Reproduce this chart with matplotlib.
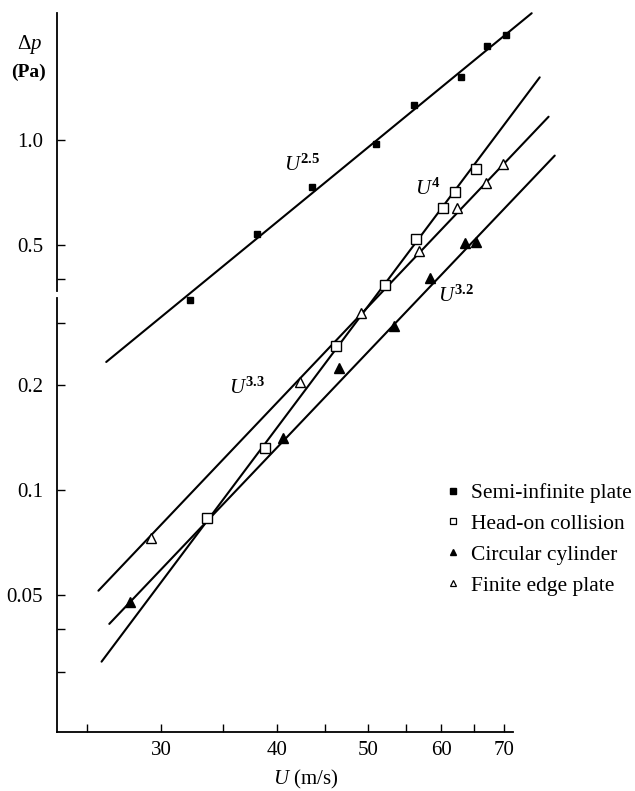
import matplotlib.pyplot as plt
from matplotlib.lines import Line2D

plt.rcParams['font.family'] = ['Liberation Serif', 'DejaVu Serif']
plt.rcParams['mathtext.fontset'] = 'custom'
plt.rcParams['mathtext.rm'] = 'Liberation Serif'
plt.rcParams['mathtext.it'] = 'Liberation Serif:italic'
plt.rcParams['mathtext.bf'] = 'Liberation Serif:bold'

# measured points (U in m/s, dp in Pa)
semi_U = [32.2, 38.0, 43.6, 51.1, 56.0, 63.0, 67.1, 70.3]
semi_p = [0.348, 0.539, 0.737, 0.976, 1.262, 1.514, 1.862, 1.998]
head_U = [33.6, 38.8, 46.2, 52.2, 56.4, 60.2, 62.0, 65.4]
head_p = [0.0829, 0.132, 0.258, 0.385, 0.521, 0.639, 0.713, 0.826]
cyl_U = [27.8, 40.6, 46.6, 53.3, 58.4, 63.6, 65.4]
cyl_p = [0.0478, 0.1407, 0.2236, 0.294, 0.403, 0.507, 0.513]
edge_U = [29.3, 42.3, 49.2, 56.8, 62.3, 67.0, 69.9]
edge_p = [0.0728, 0.203, 0.321, 0.481, 0.639, 0.756, 0.854]

# power-law fit lines (end points)
semi_fit_U = [26.2, 75.0]
semi_fit_p = [0.232, 2.31]
head_fit_U = [25.9, 76.5]
head_fit_p = [0.0322, 1.514]
cyl_fit_U = [26.4, 79.4]
cyl_fit_p = [0.0413, 0.904]
edge_fit_U = [25.7, 78.2]
edge_fit_p = [0.0514, 1.168]

# fit labels
fit_labels = [r'$U^{\mathbf{2.5}}$', r'$U^{\mathbf{4}}$', r'$U^{\mathbf{3.2}}$', r'$U^{\mathbf{3.3}}$']
fit_label_U = [40.7, 56.2, 59.5, 35.5]
fit_label_p = [0.85, 0.726, 0.358, 0.1956]

xticks = [25, 30, 35, 40, 45, 50, 55, 60, 65, 70]
xticklabels = ['', '30', '', '40', '', '50', '', '60', '', '70']
yticks = [0.03, 0.04, 0.05, 0.1, 0.2, 0.3, 0.4, 0.5, 1.0]
yticklabels = ['', '', '0.05', '0.1', '0.2', '', '', '0.5', '1.0']

legend_labels = ['Semi-infinite plate', 'Head-on collision', 'Circular cylinder', 'Finite edge plate']

fig = plt.figure(figsize=(6.35, 7.91), dpi=100)
ax = fig.add_axes([0.0898, 0.0750, 0.8866, 0.9124])
ax.set_xscale('log')
ax.set_yscale('log')
ax.set_xlim(23.2, 93.3)
ax.set_ylim(0.0203, 2.36)

lw = 1.5
for U, p in [(semi_fit_U, semi_fit_p), (head_fit_U, head_fit_p),
             (cyl_fit_U, cyl_fit_p), (edge_fit_U, edge_fit_p)]:
    ax.plot(U, p, color='black', lw=lw, solid_capstyle='round', zorder=2)

ax.plot(semi_U, semi_p, ls='none', marker='s', ms=5, mfc='black', mec='black', zorder=3)
ax.plot(head_U, head_p, ls='none', marker='s', ms=6.5, mfc='white', mec='black', mew=1, zorder=3)
ax.plot(cyl_U, cyl_p, ls='none', marker='^', ms=6.5, mfc='black', mec='black', zorder=3)
ax.plot(edge_U, edge_p, ls='none', marker='^', ms=6.5, mfc='white', mec='black', mew=1, zorder=3)

for txt, u, p in zip(fit_labels, fit_label_U, fit_label_p):
    ax.text(u, p, txt, fontsize=15, ha='left', va='center')

# axes: only left and bottom, left one broken
for s in ['top', 'right', 'left']:
    ax.spines[s].set_visible(False)
ax.spines['bottom'].set_bounds(23.2, 71.6)
ax.spines['bottom'].set_linewidth(1.3)
ytr = ax.get_yaxis_transform()
ax.plot([0, 0], [0.0203, 0.354], color='black', lw=1.3, transform=ytr, clip_on=False)
ax.plot([0, 0], [0.370, 2.31], color='black', lw=1.3, transform=ytr, clip_on=False)

ax.set_xticks(xticks)
ax.set_xticklabels(xticklabels)
ax.set_yticks(yticks)
ax.set_yticklabels(yticklabels)
ax.minorticks_off()
ax.tick_params(axis='both', direction='in', length=6, width=1, labelsize=15)
ax.tick_params(axis='x', pad=7)
ax.tick_params(axis='y', pad=10)

ax.set_xlabel(r'$U$ (m/s)', fontsize=15)
ax.xaxis.set_label_coords((306 - 57) / 563, -0.050)
fig.text(30 / 635, 1 - 45 / 791, r'$\Delta p$', fontsize=15, ha='center', va='center')
fig.text(28 / 635, 1 - 72 / 791, '(Pa)', fontsize=14, fontweight='bold', ha='center', va='center')

handles = [
    Line2D([], [], ls='none', marker='s', ms=4, mfc='black', mec='black'),
    Line2D([], [], ls='none', marker='s', ms=4.5, mfc='white', mec='black', mew=0.9),
    Line2D([], [], ls='none', marker='^', ms=4.5, mfc='black', mec='black'),
    Line2D([], [], ls='none', marker='^', ms=4.5, mfc='white', mec='black', mew=0.9),
]
ax.legend(handles, legend_labels, loc='upper left', bbox_to_anchor=(444 / 635, 1 - 483 / 791),
          bbox_transform=fig.transFigure, frameon=False, fontsize=15.5, handlelength=0.8,
          handletextpad=0.45, labelspacing=0.5, borderpad=0, borderaxespad=0)

fig.savefig('out.png', dpi=100)
